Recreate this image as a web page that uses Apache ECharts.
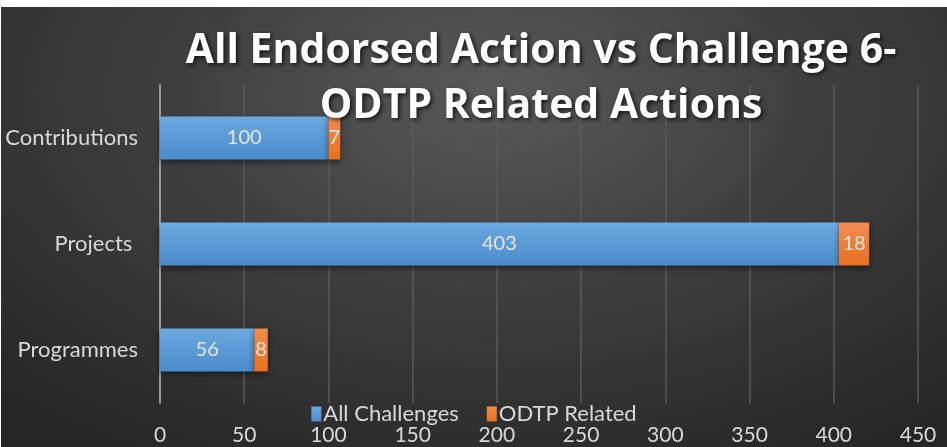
<!DOCTYPE html>
<html><head><meta charset="utf-8">
<script src="https://cdn.jsdelivr.net/npm/echarts@6/dist/echarts.min.js"></script>
<style>
html,body{margin:0;padding:0;background:#fff;}
#c{position:absolute;left:1px;top:7px;width:946px;height:440px;
background:radial-gradient(ellipse 75% 95% at 52% 20%, #595959 0%, #3f3f3f 45%, #262626 100%);}
</style></head>
<body><div id="c"></div>
<script>
const categories = ['Programmes', 'Projects ', 'Contributions'];
const allChallenges = [56, 403, 100];
const odtpRelated = [8, 18, 7];
const xTicks = {min: 0, max: 450, interval: 50};
const titleLines = ['All Endorsed Action vs Challenge 6-', 'ODTP Related Actions'];

const chart = echarts.init(document.getElementById('c'));
const font = 'Lato, "Open Sans", sans-serif';
const lbl = {show: true, position: 'inside', color: '#e6e6e6', fontSize: 20, fontFamily: font};
const tStyle = {color: '#fff', fontSize: 41, fontWeight: 'bold', fontFamily: '"Open Sans", sans-serif',
  textShadowColor: 'rgba(0,0,0,0.7)', textShadowBlur: 4, textShadowOffsetX: 2, textShadowOffsetY: 2};
chart.setOption({
  title: [
    {text: titleLines[0], left: 535, top: 19, textAlign: 'center', textStyle: tStyle},
    {text: titleLines[1], left: 535, top: 74, textAlign: 'center', textStyle: tStyle}
  ],
  legend: {
    top: 391, left: 'center', itemWidth: 10, itemHeight: 15, itemGap: 28, icon: 'rect',
    textStyle: {color: '#d9d9d9', fontSize: 22, fontFamily: font, padding: [0,0,0,-3]}
  },
  grid: {left: 159, right: 29, top: 78, bottom: 44, containLabel: false},
  xAxis: {
    type: 'value', min: xTicks.min, max: xTicks.max, interval: xTicks.interval,
    axisLine: {show: false}, axisTick: {show: false},
    axisLabel: {color: '#d9d9d9', fontSize: 21, fontFamily: font, margin: 22},
    splitLine: {show: true, lineStyle: {color: '#5a5a5a', width: 1.5}}
  },
  yAxis: {
    type: 'category', data: categories,
    axisLine: {show: true, lineStyle: {color: '#9a9a9a', width: 2}},
    axisTick: {show: false},
    axisLabel: {color: '#d9d9d9', fontSize: 22, fontFamily: font, margin: 22}
  },
  series: [
    {name: 'All Challenges', type: 'bar', stack: 's', data: allChallenges, barWidth: '40.5%',
     label: lbl,
     itemStyle: {color: new echarts.graphic.LinearGradient(0,0,0,1,[{offset:0,color:'#6ca9e0'},{offset:1,color:'#4a8bcc'}]),
       shadowColor: 'rgba(0,0,0,0.5)', shadowBlur: 6, shadowOffsetY: 3}},
    {name: 'ODTP Related', type: 'bar', stack: 's', data: odtpRelated, barWidth: '40.5%',
     label: lbl,
     itemStyle: {color: new echarts.graphic.LinearGradient(0,0,0,1,[{offset:0,color:'#f28c50'},{offset:1,color:'#e8701e'}]),
       shadowColor: 'rgba(0,0,0,0.5)', shadowBlur: 6, shadowOffsetY: 3}}
  ],
  color: ['#5b9bd5', '#ed7d31']
});
</script></body></html>
